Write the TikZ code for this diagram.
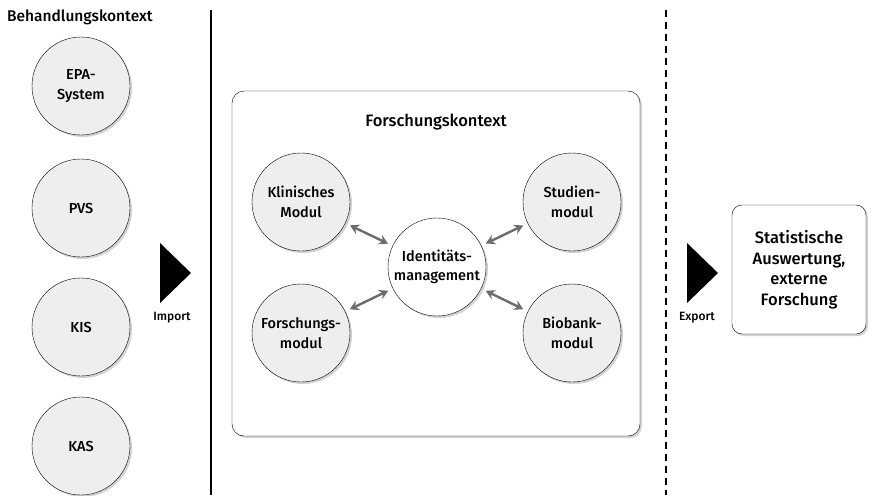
\documentclass[tikz,border=0pt]{standalone}
\usepackage{fontspec}
\setmainfont{Fira Sans}[UprightFont=* Medium]
\usetikzlibrary{shadows,arrows.meta}
\tikzset{
  sysnode/.style={draw,circle,fill=gray!13,minimum size=98pt,inner sep=0pt,align=center,
    font=\fontsize{14.5}{19.5}\selectfont,
    drop shadow={opacity=0.35,shadow xshift=2pt,shadow yshift=-2pt}},
  idnode/.style={sysnode,fill=white},
  biarrow/.style={draw=gray!85!black,line width=2.4pt,{Stealth[length=9pt,width=10pt]}-{Stealth[length=9pt,width=10pt]},shorten <=5pt,shorten >=5pt},
  framebox/.style={draw,rounded corners=12pt,fill=white,
    drop shadow={opacity=0.35,shadow xshift=2pt,shadow yshift=-2pt}},
}
\begin{document}
\begin{tikzpicture}[x=1pt,y=-1pt]
    \useasboundingbox (0,0) rectangle (872,495);

    % Behandlungskontext
    \node[anchor=west,inner sep=0pt,font=\fontsize{15.5}{18}\selectfont] (behandlung) at (7,17) {Behandlungskontext};
    \node[sysnode] (epa) at (81,86) {EPA-\\System};
    \node[sysnode] (pvs) at (81,208) {PVS};
    \node[sysnode] (kis) at (81,327) {KIS};
    \node[sysnode] (kas) at (81,446) {KAS};

    % Trennlinien
    \coordinate (S1) at (211,10);
    \coordinate (S2) at (211,495);
    \coordinate (D1) at (666,10);
    \coordinate (D2) at (666,495);
    \draw[line width=2.4pt] (S1) -- (S2);
    \draw[line width=2.4pt,dash pattern=on 7pt off 5pt] (D1) -- (D2);

    % Import / Export
    \fill (160,243) -- (191,273) -- (160,303) -- cycle;
    \node[font=\fontsize{12}{14}\selectfont] (import) at (172,318) {Import};
    \fill (687,243) -- (718,273) -- (687,303) -- cycle;
    \node[font=\fontsize{12}{14}\selectfont] (export) at (697,318) {Export};

    % Forschungskontext
    \node[framebox,minimum width=408pt,minimum height=345pt] (forschung) at (436,263.5) {};
    \node[font=\fontsize{16.5}{19}\selectfont] (ftitel) at (436,122) {Forschungskontext};
    \node[sysnode] (klinisch) at (301,202) {Klinisches\\Modul};
    \node[sysnode] (studien) at (572,202) {Studien-\\modul};
    \node[sysnode] (fmodul) at (301,333) {Forschungs-\\modul};
    \node[sysnode] (biobank) at (572,333) {Biobank-\\modul};
    \node[idnode] (ident) at (437,267) {Identitäts-\\management};

    \draw[biarrow] (klinisch) -- (ident);
    \draw[biarrow] (studien) -- (ident);
    \draw[biarrow] (fmodul) -- (ident);
    \draw[biarrow] (biobank) -- (ident);

    % Auswertung
    \node[framebox,rounded corners=10pt,minimum width=134pt,minimum height=129pt,align=center,
          font=\fontsize{16.5}{20.5}\selectfont] (auswertung) at (799,269.5)
          {Statistische\\Auswertung,\\externe\\Forschung};
\end{tikzpicture}
\end{document}
